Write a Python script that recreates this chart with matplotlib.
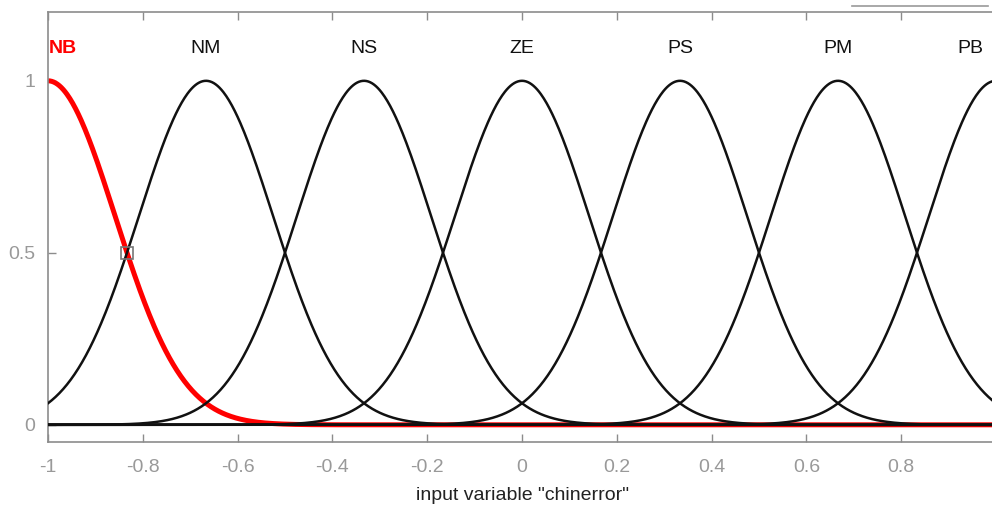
import numpy as np
import matplotlib
matplotlib.use("Agg")
import matplotlib.pyplot as plt
from matplotlib.lines import Line2D

plt.rcParams["font.family"] = ["Liberation Sans", "DejaVu Sans"]

# Membership function parameters (Gaussian: center, sigma)
names = ["NB", "NM", "NS", "ZE", "PS", "PM", "PB"]
centers = [-1.0, -2/3, -1/3, 0.0, 1/3, 2/3, 1.0]
sigmas = [0.1416, 0.1416, 0.1416, 0.1416, 0.1416, 0.1416, 0.1416]
label_x = [-0.968, -2/3, -1/3, 0.0, 1/3, 2/3, 0.945]
highlight = "NB"
marker_pt = (-5/6, 0.5)
xticks = [-1, -0.8, -0.6, -0.4, -0.2, 0, 0.2, 0.4, 0.6, 0.8, 1]
xtick_labels = ["-1", "-0.8", "-0.6", "-0.4", "-0.2", "0", "0.2", "0.4", "0.6", "0.8", "1"]
yticks = [0, 0.5, 1]
ytick_labels = ["0", "0.5", "1"]
xlabel = 'input variable "chinerror"'

fig = plt.figure(figsize=(9.92, 5.08), dpi=100)
ax = fig.add_axes([48/992, 66/508, 948/992, 430/508])

x = np.linspace(-1, 1, 1001)
for name, c, s, lx in zip(names, centers, sigmas, label_x):
    y = np.exp(-((x - c) ** 2) / (2 * s ** 2))
    if name == highlight:
        ax.plot(x, y, color="#ff0000", lw=3.6, zorder=2, solid_capstyle="butt")
    else:
        ax.plot(x, y, color="#111111", lw=1.8, zorder=3)
    ax.text(lx, 1.095, name, ha="center", va="center", fontsize=14,
            color="#ff0000" if name == highlight else "#111111",
            fontweight="bold" if name == highlight else "normal",
            clip_on=False)

ax.plot([marker_pt[0]], [marker_pt[1]], marker="s", ms=8, mfc="none",
        mec="#777777", mew=1.2, zorder=4)

ax.set_xlim(-1, 1)
ax.set_ylim(-0.05, 1.2)
ax.set_xticks(xticks)
ax.set_xticklabels(xtick_labels)
ax.set_yticks(yticks)
ax.set_yticklabels(ytick_labels)
gray = "#8c8c8c"
ax.tick_params(axis="both", direction="in", length=6, width=1, color=gray,
               labelcolor="#999999", labelsize=14)
ax.tick_params(axis="x", top=True, pad=12)
ax.tick_params(axis="y", pad=9)
for side in ["left", "bottom", "top"]:
    ax.spines[side].set_color(gray)
    ax.spines[side].set_linewidth(1.2)
ax.spines["right"].set_visible(False)
ax.set_xlabel(xlabel, fontsize=14, color="#222222", labelpad=8)

# stray line at top right of the original screenshot
fig.add_artist(Line2D([852/992, 988/992], [1 - 6/508, 1 - 6/508],
                      color="#999999", lw=1.2))

fig.savefig("out.png", dpi=100)
